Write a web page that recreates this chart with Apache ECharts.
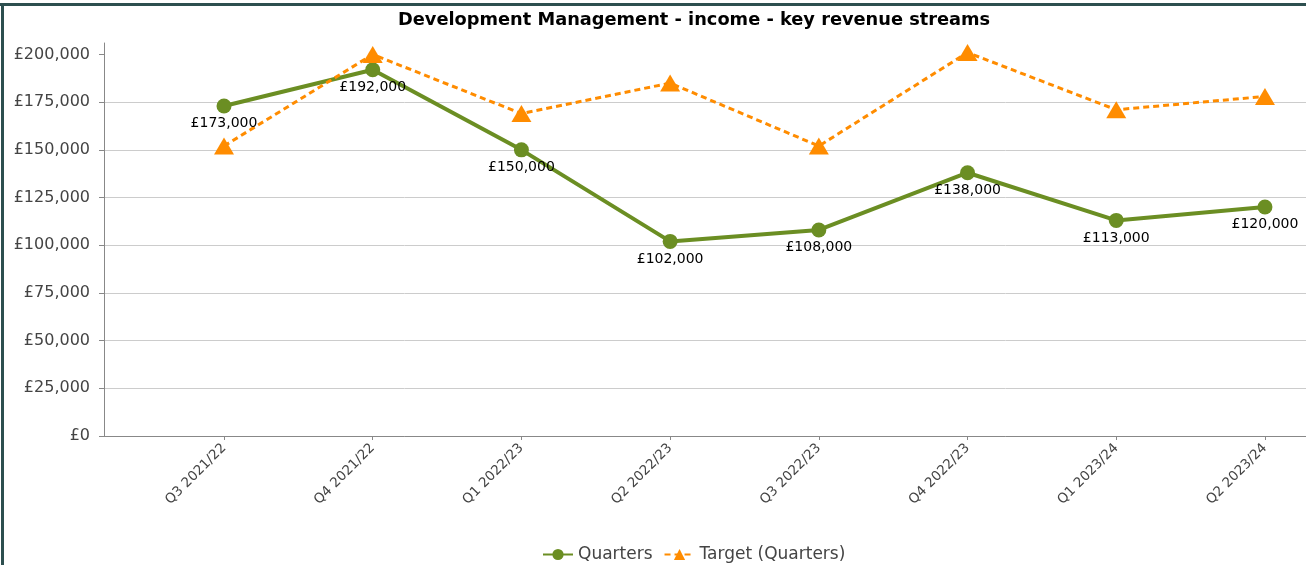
<!DOCTYPE html>
<html>
<head>
<meta charset="utf-8">
<script src="https://cdn.jsdelivr.net/npm/echarts@6/dist/echarts.min.js"></script>
<style>
    html, body { margin: 0; padding: 0; background: #fff; }
    #chart { position: absolute; left: 0; top: 0; width: 1306px; height: 565px; }
    .edge { position: absolute; background: #2d4f4f; }
</style>
</head>
<body>
<div id="chart"></div>
<div class="edge" style="left:0;top:3px;width:1306px;height:3px;"></div>
<div class="edge" style="left:1px;top:3px;width:3px;height:562px;"></div>
<script>
// Chart data
// ------------------------------

var quarters = ['Q3 2021/22', 'Q4 2021/22', 'Q1 2022/23', 'Q2 2022/23',
                'Q3 2022/23', 'Q4 2022/23', 'Q1 2023/24', 'Q2 2023/24'];
var actualIncome = [173000, 192000, 150000, 102000, 108000, 138000, 113000, 120000];
var targetIncome = [152000, 200000, 169000, 185000, 152000, 201000, 171000, 178000];
var yTicks = [0, 25000, 50000, 75000, 100000, 125000, 150000, 175000, 200000];


// Helpers
// ------------------------------

var pounds = function(v) {
    return '£' + Number(v).toLocaleString('en-GB');
};

var quarterIndex = quarters.map(function(q, i) { return i; });

var toPoints = function(values) {
    return values.map(function(v, i) { return [i, v]; });
};


// Initialize chart
// ------------------------------

var chart_element = document.getElementById('chart');
var income_chart = echarts.init(chart_element);

income_chart.setOption({

    animation: false,

    textStyle: {
        fontFamily: '"DejaVu Sans", Verdana, sans-serif'
    },

    // Title
    title: {
        text: 'Development Management - income - key revenue streams',
        left: 398,
        top: 11,
        padding: 0,
        textStyle: {
            fontSize: 17.8,
            fontWeight: 'bold',
            color: '#000'
        }
    },

    // Legend
    legend: {
        bottom: 2,
        left: 542,
        padding: 0,
        itemWidth: 30,
        itemHeight: 14,
        itemGap: 11,
        textStyle: {
            fontSize: 17,
            color: '#444'
        },
        data: ['Quarters', 'Target (Quarters)']
    },

    // Grid
    grid: {
        left: 104,
        right: 0,
        top: 43,
        bottom: 129
    },

    // Horizontal axis
    xAxis: {
        type: 'value',
        min: -0.807,
        max: 7.276,
        splitLine: { show: false },
        axisLine: {
            onZero: false,
            lineStyle: { color: '#888', width: 1 }
        },
        axisTick: {
            show: true,
            length: 4,
            customValues: quarterIndex,
            lineStyle: { color: '#888' }
        },
        axisLabel: {
            customValues: quarterIndex,
            rotate: 45,
            margin: 10,
            fontSize: 13.5,
            color: '#444',
            formatter: function(v) {
                return quarters[Math.round(v)];
            }
        }
    },

    // Vertical axis
    yAxis: {
        type: 'value',
        min: 0,
        max: 206000,
        axisLine: {
            show: true,
            onZero: false,
            lineStyle: { color: '#888', width: 1 }
        },
        axisTick: {
            show: true,
            length: 5,
            customValues: yTicks,
            lineStyle: { color: '#888' }
        },
        axisLabel: {
            customValues: yTicks,
            fontSize: 16,
            color: '#444',
            margin: 14,
            formatter: pounds
        },
        splitLine: {
            showMaxLine: false,
            lineStyle: { color: '#cccccc', width: 1 }
        }
    },

    // Series
    series: [
        {
            name: 'Quarters',
            type: 'line',
            data: toPoints(actualIncome),
            symbol: 'circle',
            symbolSize: 15,
            color: '#6b8e23',
            lineStyle: { width: 4, color: '#6b8e23' },
            itemStyle: { color: '#6b8e23' },
            label: {
                show: true,
                position: 'bottom',
                distance: 3,
                fontSize: 14,
                color: '#000',
                formatter: function(p) { return pounds(p.value[1]); }
            }
        },
        {
            name: 'Target (Quarters)',
            type: 'line',
            data: toPoints(targetIncome),
            symbol: 'triangle',
            symbolSize: [20, 17],
            color: '#ff8c00',
            lineStyle: { width: 3, color: '#ff8c00', type: [6, 4] },
            itemStyle: { color: '#ff8c00' }
        }
    ]
});
</script>
</body>
</html>
